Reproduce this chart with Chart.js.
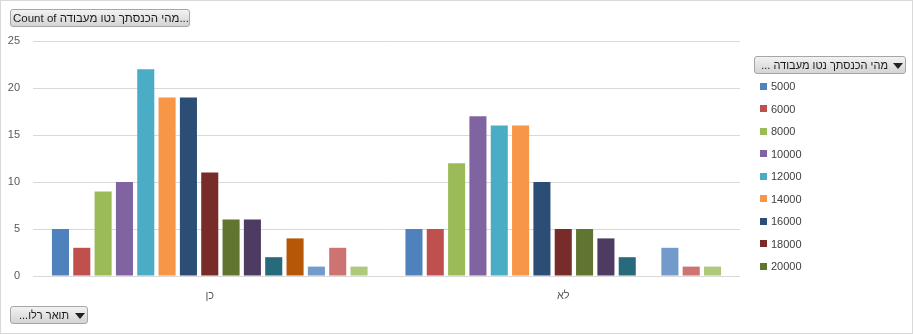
<!DOCTYPE html>
<html>
<head>
<meta charset="utf-8">
<script src="https://cdn.jsdelivr.net/npm/chart.js@4"></script>
<style>
  html, body { margin:0; padding:0; background:#fff; }
  #wrap { position:relative; width:913px; height:334px; overflow:hidden; font-family:"Liberation Sans", "DejaVu Sans", sans-serif; }
  #frame { position:absolute; left:0; top:0; width:911px; height:332px; border:1px solid #d9d9d9; pointer-events:none; }
  canvas { position:absolute; left:0; top:0; }
  .btn { position:absolute; height:16px; line-height:16px; border:1px solid #a6a6a6; border-radius:3px;
         background:linear-gradient(#f2f2f2,#d4d4d4); font-size:11px; color:#1a1a1a; white-space:nowrap; box-sizing:content-box; }
  .tri { display:inline-block; width:0; height:0; border-left:5px solid transparent; border-right:5px solid transparent; border-top:6px solid #222; vertical-align:middle; }
  #legend { position:absolute; left:760px; top:79px; font-size:11px; color:#404040; }
  .li { position:absolute; left:0; height:14px; line-height:14px; white-space:nowrap; }
  .sw { display:inline-block; width:7px; height:7px; margin-right:4px; vertical-align:middle; position:relative; top:-1px; }
</style>
</head>
<body>
<div id="wrap">
  <canvas id="c" width="913" height="334"></canvas>
  <div class="btn" dir="ltr" style="left:10px; top:9px; width:174px; padding:0 2px; text-align:left; font-size:11.5px;">Count of מהי הכנסתך נטו מעבודה...</div>
  <div class="btn" style="left:754px; top:56px; width:148px; direction:rtl; text-align:right; padding-right:2px;"><span class="tri" style="margin-left:5px;"></span>מהי הכנסתך נטו מעבודה ...</div>
  <div class="btn" style="left:10px; top:306px; width:74px; direction:rtl; text-align:right; padding-right:2px;"><span class="tri" style="margin-left:6px;"></span>תואר רלו...</div>
  <div id="legend"></div>
  <div id="frame"></div>
</div>
<script>
// Categories (x axis)
const categories = ['כן', 'לא'];
// Series names (income levels)
const seriesNames = ['5000','6000','8000','10000','12000','14000','16000','18000','20000','25000','30000','35000','40000','50000','60000'];
// Counts per series: [כן, לא]
const s5000  = [5, 5];
const s6000  = [3, 5];
const s8000  = [9, 12];
const s10000 = [10, 17];
const s12000 = [22, 16];
const s14000 = [19, 16];
const s16000 = [19, 10];
const s18000 = [11, 5];
const s20000 = [6, 5];
const s25000 = [6, 4];
const s30000 = [2, 2];
const s35000 = [4, 0];
const s40000 = [1, 3];
const s50000 = [3, 1];
const s60000 = [1, 1];
const seriesValues = [s5000,s6000,s8000,s10000,s12000,s14000,s16000,s18000,s20000,s25000,s30000,s35000,s40000,s50000,s60000];
const yTicks = [0, 5, 10, 15, 20, 25];
const legendVisibleCount = 9;

const colors = ['#4F81BD','#C0504D','#9BBB59','#8064A2','#4BACC6','#F79646','#2C4D75','#772C2A','#5F7530','#4D3B62','#276A7C','#B65708','#729ACA','#CD7371','#AFC97A'];

const datasets = seriesNames.map((n, i) => ({
  label: n,
  data: seriesValues[i],
  backgroundColor: colors[i],
  borderWidth: 0,
  barPercentage: 0.8,
  categoryPercentage: 0.905
}));

// HTML legend (first visible items as in the scrolled legend)
const leg = document.getElementById('legend');
for (let i = 0; i < legendVisibleCount; i++) {
  const d = document.createElement('div');
  d.className = 'li';
  d.style.top = (i * 22.5) + 'px';
  d.innerHTML = '<span class="sw" style="background:' + colors[i] + '"></span>' + seriesNames[i];
  leg.appendChild(d);
}

const FONT = "'Liberation Sans', 'DejaVu Sans', sans-serif";
new Chart(document.getElementById('c'), {
  type: 'bar',
  data: { labels: categories, datasets },
  options: {
    responsive: false,
    animation: false,
    layout: { padding: { top: 41, left: 0, right: 173, bottom: 0 } },
    plugins: { legend: { display: false }, tooltip: { enabled: false } },
    scales: {
      x: {
        grid: { display: false, drawTicks: false },
        border: { display: false },
        ticks: { color: '#595959', font: { family: FONT, size: 11 }, padding: 13 },
        afterFit: s => { s.height = 58; }
      },
      y: {
        min: 0, max: 25,
        afterBuildTicks: s => { s.ticks = yTicks.map(v => ({ value: v })); },
        grid: { color: '#d9d9d9', lineWidth: 1, drawTicks: false },
        border: { display: false },
        ticks: { color: '#595959', font: { family: FONT, size: 11 }, padding: 13 },
        afterFit: s => { s.width = 33; }
      }
    }
  }
});
</script>
</body>
</html>
